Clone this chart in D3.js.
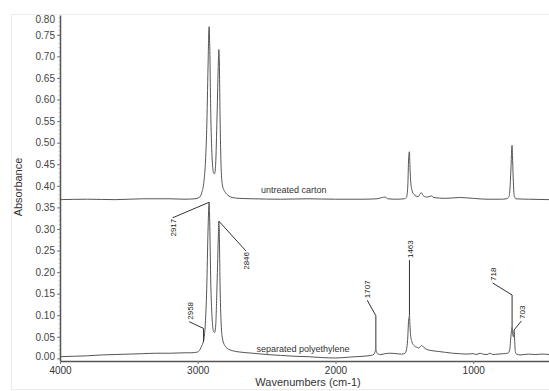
<!DOCTYPE html>
<html><head><meta charset="utf-8">
<script src="https://cdn.jsdelivr.net/npm/d3@7"></script>
<style>
body{margin:0;background:#fff;}
svg{display:block;font-family:"Liberation Sans",Arial,Helvetica,sans-serif;}
</style></head>
<body><svg id="c" width="549" height="391"></svg>
<script>
// Upper spectrum: untreated carton [wavenumber, absorbance]
const cartonSpectrum = [[4000,0.368],[3800,0.369],[3600,0.368],[3400,0.370],[3200,0.370],[3100,0.369],[3020,0.370],[2990,0.373],[2970,0.385],[2955,0.410],[2945,0.450],[2935,0.530],[2925,0.680],[2919,0.765],[2917,0.769],[2914,0.740],[2905,0.560],[2895,0.460],[2885,0.430],[2878,0.428],[2870,0.450],[2860,0.560],[2850,0.690],[2847,0.716],[2844,0.700],[2838,0.560],[2830,0.440],[2820,0.400],[2800,0.385],[2780,0.378],[2750,0.373],[2700,0.371],[2600,0.370],[2400,0.369],[2200,0.370],[2000,0.369],[1800,0.369],[1700,0.370],[1660,0.373],[1640,0.374],[1620,0.370],[1560,0.369],[1500,0.370],[1485,0.373],[1475,0.400],[1470,0.455],[1466,0.476],[1463,0.479],[1460,0.450],[1455,0.415],[1445,0.390],[1430,0.380],[1400,0.375],[1385,0.382],[1375,0.384],[1365,0.378],[1340,0.374],[1310,0.376],[1300,0.377],[1290,0.373],[1200,0.371],[1100,0.373],[1000,0.371],[900,0.369],[800,0.369],[760,0.370],[740,0.375],[732,0.400],[725,0.450],[720,0.490],[718,0.494],[715,0.470],[710,0.420],[705,0.385],[700,0.374],[690,0.370],[600,0.369],[450,0.368]];

// Lower spectrum: separated polyethylene
const peSpectrum = [[4000,0.004],[3900,0.005],[3800,0.006],[3700,0.008],[3600,0.009],[3500,0.010],[3400,0.011],[3300,0.012],[3200,0.012],[3100,0.013],[3050,0.013],[3000,0.015],[2985,0.020],[2970,0.030],[2960,0.038],[2955,0.045],[2945,0.080],[2935,0.160],[2925,0.300],[2919,0.358],[2917,0.362],[2914,0.330],[2905,0.170],[2895,0.090],[2885,0.062],[2878,0.060],[2870,0.075],[2860,0.170],[2850,0.290],[2847,0.318],[2844,0.300],[2838,0.170],[2830,0.080],[2820,0.045],[2800,0.028],[2780,0.022],[2750,0.018],[2700,0.015],[2600,0.012],[2500,0.009],[2400,0.007],[2300,0.005],[2200,0.004],[2100,0.002],[2000,0.001],[1900,0.003],[1800,0.005],[1740,0.007],[1720,0.010],[1712,0.016],[1707,0.020],[1702,0.015],[1690,0.010],[1670,0.009],[1640,0.011],[1600,0.012],[1560,0.011],[1520,0.010],[1495,0.012],[1485,0.020],[1475,0.050],[1470,0.085],[1466,0.095],[1463,0.100],[1460,0.080],[1455,0.055],[1445,0.038],[1430,0.030],[1410,0.026],[1395,0.024],[1375,0.030],[1360,0.026],[1340,0.021],[1300,0.018],[1250,0.016],[1200,0.014],[1150,0.012],[1100,0.011],[1050,0.010],[1000,0.011],[980,0.009],[950,0.012],[930,0.010],[900,0.009],[880,0.012],[860,0.009],[820,0.010],[780,0.011],[750,0.012],[735,0.020],[728,0.045],[722,0.065],[718,0.073],[713,0.055],[708,0.050],[703,0.066],[699,0.040],[694,0.015],[685,0.010],[660,0.008],[600,0.010],[550,0.009],[500,0.010],[450,0.009]];

// Peak annotations: leader polyline in data units, label placed at last point
const peakLabels = ["2917","2846","2958","1707","1463","718","703"];
const peakLeaders = [
  [[2917,0.362],[3182,0.326]],
  [[2846,0.318],[2650,0.249]],
  [[2958,0.038],[2958,0.0695],[3062,0.085]],
  [[1707,0.020],[1707,0.099],[1770,0.135]],
  [[1463,0.100],[1463,0.228]],
  [[718,0.073],[718,0.147],[860,0.175]],
  [[703,0.066],[650,0.087]]
];
const peakLabelSide = ["below","below","above","above","above","above","above"];

const seriesNames = ["untreated carton","separated polyethylene"];
const seriesNamePos = [[2541,0.383],[2573,0.016]];

const yTicks = [0,0.05,0.10,0.15,0.20,0.25,0.30,0.35,0.40,0.45,0.50,0.55,0.60,0.65,0.70,0.75,0.80];
const xTicks = [4000,3000,2000,1000];

const svg = d3.select("#c");
const W = 549, H = 391;
const m = {l:60, r:0, t:15, b:30};
const x = d3.scaleLinear().domain([4000,450]).range([m.l, W - m.r]);
const y = d3.scaleLinear().domain([-0.006,0.796]).range([H - m.b, m.t]);

// faint outer frame
svg.append("rect").attr("x",11.5).attr("y",14.5).attr("width",W).attr("height",H-16)
  .attr("fill","none").attr("stroke","#ededed");

// minor y ticks
const minor = d3.range(0, 0.80, 0.01);
svg.append("g").selectAll("line").data(minor).join("line")
  .attr("x1",m.l-1.5).attr("x2",m.l).attr("y1",d=>y(d)).attr("y2",d=>y(d))
  .attr("stroke","#999").attr("stroke-width",0.5);

const yAxis = svg.append("g").attr("transform",`translate(${m.l},0)`)
  .call(d3.axisLeft(y).tickValues(yTicks).tickFormat(d3.format(".2f")).tickSize(3).tickPadding(2).tickSizeOuter(0));
yAxis.select(".domain").attr("stroke","#555").attr("stroke-width",1.5);
yAxis.selectAll(".tick line").attr("stroke","#777");
yAxis.selectAll(".tick text").attr("fill","#444").style("font-size","10px");
yAxis.selectAll(".tick").filter(d=>d===0.80).select("text").attr("y",5.7);
yAxis.selectAll(".tick").filter(d=>d===0.80).select("line").remove();
yAxis.selectAll(".tick").filter(d=>d===0).select("text").attr("y",-2.5);

const xAxis = svg.append("g").attr("transform",`translate(0,${H-m.b})`)
  .call(d3.axisBottom(x).tickValues(xTicks).tickFormat(d3.format("d")).tickSize(3).tickPadding(3).tickSizeOuter(0));
xAxis.select(".domain").attr("stroke","#555").attr("stroke-width",1.5);
xAxis.selectAll(".tick line").attr("stroke","#777");
xAxis.selectAll(".tick text").attr("fill","#333").style("font-size","10px");

// axis titles
svg.append("text").attr("x",308).attr("y",386).attr("text-anchor","middle")
  .attr("fill","#333").style("font-size","11px").text("Wavenumbers (cm-1)");
svg.append("text").attr("transform","translate(22,187) rotate(-90)").attr("text-anchor","middle")
  .attr("fill","#333").style("font-size","11px").text("Absorbance");

const line = d3.line().x(d=>x(d[0])).y(d=>y(d[1])).curve(d3.curveMonotoneX);
const plot = svg.append("g");
[cartonSpectrum, peSpectrum].forEach(s=>{
  plot.append("path").datum(s).attr("d",line).attr("fill","none")
    .attr("stroke","#555").attr("stroke-width",1);
});

// series names
seriesNames.forEach((n,i)=>{
  svg.append("text").attr("x",x(seriesNamePos[i][0])).attr("y",y(seriesNamePos[i][1]))
    .attr("fill","#333").style("font-size","9px").text(n);
});

// peak leaders and labels
const lp = d3.line().x(d=>x(d[0])).y(d=>y(d[1]));
peakLeaders.forEach((pts,i)=>{
  svg.append("path").attr("d",lp(pts)).attr("fill","none").attr("stroke","#333").attr("stroke-width",1);
  const end = pts[pts.length-1];
  const ex = x(end[0]), ey = y(end[1]);
  const above = peakLabelSide[i]==="above";
  svg.append("text").attr("transform",`translate(${ex+0.5},${above?ey-2:ey+1}) rotate(-90)`)
    .attr("text-anchor", above ? "start" : "end").attr("dy","0.35em")
    .attr("fill","#222").style("font-size","8px").text(peakLabels[i]);
});
</script></body></html>
